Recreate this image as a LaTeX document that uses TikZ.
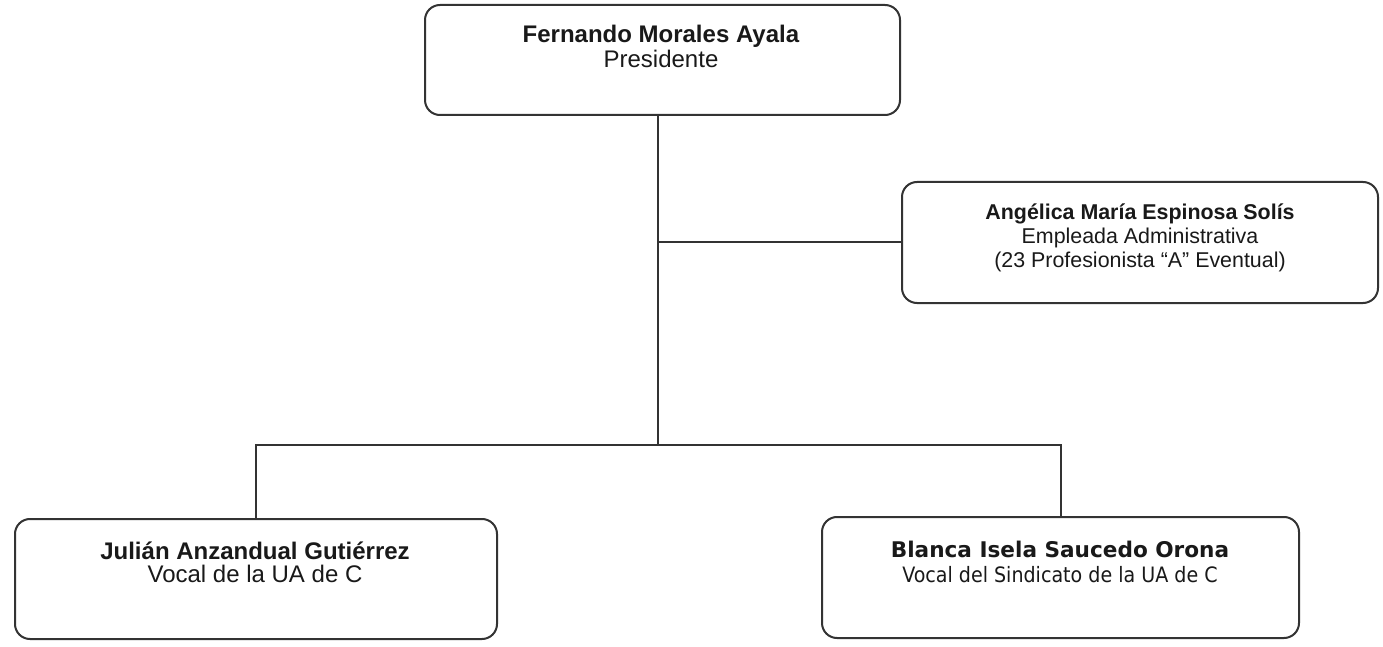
\documentclass[tikz,border=0pt]{standalone}
\usepackage{fontspec}
\setmainfont{Liberation Sans}
\newfontfamily\tahomalike{DejaVu Sans Condensed}
\newfontfamily\tahomabold{DejaVu Sans}
\begin{document}
\begin{tikzpicture}[x=0.5pt,y=-0.5pt,
  box/.style={draw=black!80, line width=1pt, rounded corners=7.5pt, inner sep=0pt},
  txt/.style={align=center, inner sep=0pt, text=black!90, anchor=base},
  conn/.style={draw=black!80, line width=1pt}]
\useasboundingbox (0,0) rectangle (1383,647);
\fill[white] (0,0) rectangle (1383,647);
% boxes
\node[box, minimum width=237.5pt, minimum height=55pt] (pres) at (662.5,60) {};
\node[box, minimum width=238pt, minimum height=60.5pt] (emp) at (1140,242.5) {};
\node[box, minimum width=241pt, minimum height=60pt] (vua) at (256,579) {};
\node[box, minimum width=238.5pt, minimum height=60.5pt] (vsin) at (1060.5,577.5) {};
% texts (anchor base = last line baseline)
\node[txt, font=\fontsize{12}{12.5}\selectfont] (presT) at (661,68) {\textbf{Fernando Morales Ayala}\\Presidente};
\node[txt, font=\fontsize{10.7}{11.9}\selectfont] (empT) at (1140,267) {\textbf{Angélica María Espinosa Solís}\\Empleada Administrativa\\(23 Profesionista “A” Eventual)};
\node[txt, font=\fontsize{12}{11.5}\selectfont] (vuaT) at (255,582) {\textbf{Julián Anzandual Gutiérrez}\\Vocal de la UA de C};
\node[txt, font=\fontsize{10.6}{12.5}\selectfont] (vsinT) at (1060,582) {{\tahomabold\bfseries\fontsize{10.8}{12.5}\selectfont Blanca Isela Saucedo Orona}\\{\tahomalike Vocal del Sindicato de la UA de C}};
% connectors
\coordinate (j) at (658,445);
\draw[conn] (pres.south -| j) -- (j);
\draw[conn] (emp.west -| j) -- (emp.west);
\draw[conn] (vua.north) -- (vua.north |- j) -- (vsin.north |- j) -- (vsin.north);
\end{tikzpicture}
\end{document}
